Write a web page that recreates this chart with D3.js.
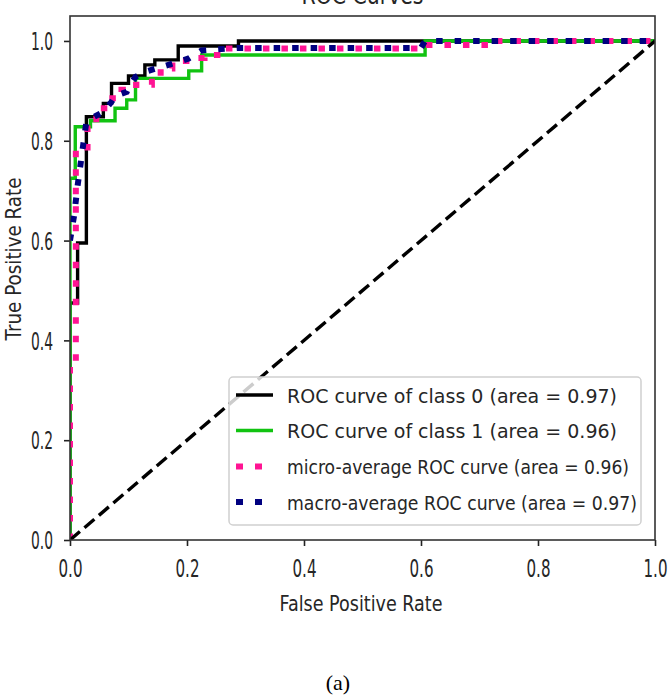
<!DOCTYPE html>
<html>
<head>
<meta charset="utf-8">
<script src="https://cdn.jsdelivr.net/npm/d3@7"></script>
<style>
  html, body { margin: 0; padding: 0; background: #fff; }
  svg { display: block; }
</style>
</head>
<body>
<svg id="chart" width="672" height="700"></svg>
<script>
// ---------------- DATA ----------------
const xTicks = [0.0, 0.2, 0.4, 0.6, 0.8, 1.0];
const yTicks = [0.0, 0.2, 0.4, 0.6, 0.8, 1.0];

// ROC curve of class 0 (step corners)
const class0Fpr = [0, 0, 0.013, 0.013, 0.028, 0.028, 0.057, 0.057, 0.071, 0.071, 0.100, 0.100, 0.128, 0.128, 0.145, 0.145, 0.185, 0.185, 0.288, 0.288, 1.0];
const class0Tpr = [0, 0.475, 0.475, 0.595, 0.595, 0.848, 0.848, 0.875, 0.875, 0.915, 0.915, 0.930, 0.930, 0.952, 0.952, 0.962, 0.962, 0.990, 0.990, 1.0, 1.0];

// ROC curve of class 1
const class1Fpr = [0, 0, 0.009, 0.009, 0.035, 0.035, 0.077, 0.077, 0.097, 0.097, 0.112, 0.112, 0.203, 0.203, 0.225, 0.225, 0.607, 0.607, 1.0];
const class1Tpr = [0, 0.725, 0.725, 0.828, 0.828, 0.840, 0.840, 0.865, 0.865, 0.882, 0.882, 0.925, 0.925, 0.940, 0.940, 0.972, 0.972, 1.0, 1.0];

// micro-average ROC curve
const microFpr = [0, 0, 0.010, 0.010, 0.030, 0.030, 0.045, 0.045, 0.065, 0.065, 0.088, 0.088, 0.113, 0.113, 0.140, 0.140, 0.155, 0.155, 0.175, 0.175, 0.205, 0.205, 0.230, 0.230, 0.260, 0.260, 0.607, 0.607, 0.730, 0.730, 1.0];
const microTpr = [0, 0.350, 0.350, 0.780, 0.780, 0.835, 0.835, 0.865, 0.865, 0.885, 0.885, 0.902, 0.902, 0.912, 0.912, 0.918, 0.918, 0.945, 0.945, 0.960, 0.960, 0.966, 0.966, 0.972, 0.972, 0.985, 0.985, 0.992, 0.992, 1.0, 1.0];

// macro-average ROC curve
const macroFpr = [0, 0.007, 0.013, 0.028, 0.035, 0.057, 0.071, 0.077, 0.097, 0.100, 0.112, 0.128, 0.145, 0.185, 0.203, 0.225, 0.288, 0.600, 0.607, 1.0];
const macroTpr = [0.600, 0.650, 0.710, 0.838, 0.844, 0.858, 0.878, 0.890, 0.898, 0.906, 0.928, 0.938, 0.944, 0.958, 0.965, 0.981, 0.986, 0.986, 1.0, 1.0];

const diagFpr = [0, 1];
const diagTpr = [0, 1];

const legendLabels = [
  "ROC curve of class 0 (area = 0.97)",
  "ROC curve of class 1 (area = 0.96)",
  "micro-average ROC curve (area = 0.96)",
  "macro-average ROC curve (area = 0.97)"
];

// ---------------- LAYOUT ----------------
const svg = d3.select("#chart");
const L = 70, R = 655, T = 16, B = 540;
const x = d3.scaleLinear().domain([0, 1]).range([L, R]);
const y = d3.scaleLinear().domain([0, 1.05]).range([B, T]);
const FONT = "DejaVu Sans, Verdana, sans-serif";
const TXT = "#262626";

function squeeze(sel, w) {
  sel.attr("textLength", w).attr("lengthAdjust", "spacingAndGlyphs");
}

svg.append("defs").append("clipPath").attr("id", "plotclip")
  .append("rect").attr("x", L).attr("y", T).attr("width", R - L).attr("height", B - T);

// Title (cut off at the top of the picture)
svg.append("text").attr("x", (L + R) / 2).attr("y", 4)
  .attr("text-anchor", "middle").attr("font-family", FONT).attr("font-size", 24)
  .attr("fill", TXT).text("ROC Curves").call(squeeze, 122);

// ---------------- CURVES ----------------
const plot = svg.append("g").attr("clip-path", "url(#plotclip)");
const line = d3.line().x(d => x(d[0])).y(d => y(d[1]));
const zip = (a, b) => a.map((v, i) => [v, b[i]]);

const series = [
  { fpr: class0Fpr, tpr: class0Tpr, color: "#000000", width: 3.4, dash: null },
  { fpr: class1Fpr, tpr: class1Tpr, color: "#11c311", width: 3.4, dash: null },
  { fpr: microFpr, tpr: microTpr, color: "#ff1493", width: 6, dash: "6.5,12" },
  { fpr: macroFpr, tpr: macroTpr, color: "#000080", width: 6, dash: "6.5,12" }
];

series.forEach(s => {
  plot.append("path").datum(zip(s.fpr, s.tpr))
    .attr("d", line).attr("fill", "none")
    .attr("stroke", s.color).attr("stroke-width", s.width)
    .attr("stroke-dasharray", s.dash)
    .attr("stroke-linejoin", "miter");
});

plot.append("path").datum(zip(diagFpr, diagTpr))
  .attr("d", line).attr("fill", "none").attr("stroke", "#000")
  .attr("stroke-width", 3.4).attr("stroke-dasharray", "13,6");

// ---------------- AXES ----------------
const xAxis = svg.append("g").attr("transform", `translate(0,${B})`)
  .call(d3.axisBottom(x).tickValues(xTicks).tickFormat(d3.format(".1f")).tickSize(6).tickSizeOuter(0));
const yAxis = svg.append("g").attr("transform", `translate(${L},0)`)
  .call(d3.axisLeft(y).tickValues(yTicks).tickFormat(d3.format(".1f")).tickSize(6).tickSizeOuter(0));

[xAxis, yAxis].forEach(g => {
  g.select(".domain").remove();
  g.selectAll(".tick line").attr("stroke", "#222").attr("stroke-width", 1.6);
  g.selectAll(".tick text").attr("font-family", FONT).attr("font-size", 24).attr("fill", TXT);
});
xAxis.selectAll(".tick text").attr("y", 37).attr("dy", 0).call(squeeze, 24);
yAxis.selectAll(".tick text").attr("x", -17).attr("dy", "0.36em").call(squeeze, 22);

// Frame
svg.append("rect").attr("x", L).attr("y", T).attr("width", R - L).attr("height", B - T)
  .attr("fill", "none").attr("stroke", "#333").attr("stroke-width", 1.6);

// Axis labels
svg.append("text").attr("x", 361).attr("y", 611).attr("text-anchor", "middle")
  .attr("font-family", FONT).attr("font-size", 21).attr("fill", TXT)
  .text("False Positive Rate").call(squeeze, 163);
svg.append("text").attr("transform", "translate(21,259) rotate(-90)")
  .attr("text-anchor", "middle").attr("font-family", FONT).attr("font-size", 21).attr("fill", TXT)
  .text("True Positive Rate").call(squeeze, 163);

// ---------------- LEGEND ----------------
const lg = svg.append("g");
lg.append("rect").attr("x", 229).attr("y", 377).attr("width", 412).attr("height", 148)
  .attr("rx", 4).attr("fill", "#fff").attr("fill-opacity", 0.8)
  .attr("stroke", "#d0d0d0").attr("stroke-width", 1.5);

const rowY = [395, 430.5, 466.5, 502];
const textW = [330, 330, 342, 350];
series.forEach((s, i) => {
  const yy = rowY[i];
  const solid = !s.dash;
  lg.append("line").attr("x1", 236).attr("x2", solid ? 273 : 264)
    .attr("y1", yy).attr("y2", yy)
    .attr("stroke", s.color).attr("stroke-width", s.width)
    .attr("stroke-dasharray", solid ? null : "7,12");
  lg.append("text").attr("x", 287).attr("y", yy + 7.5)
    .attr("font-family", FONT).attr("font-size", 20).attr("fill", TXT)
    .text(legendLabels[i]).call(squeeze, textW[i]);
});

// Caption
svg.append("text").attr("x", 338).attr("y", 690).attr("text-anchor", "middle")
  .attr("font-family", "Liberation Serif, Times New Roman, serif").attr("font-size", 22)
  .attr("fill", "#000").text("(a)");
</script>
</body>
</html>
